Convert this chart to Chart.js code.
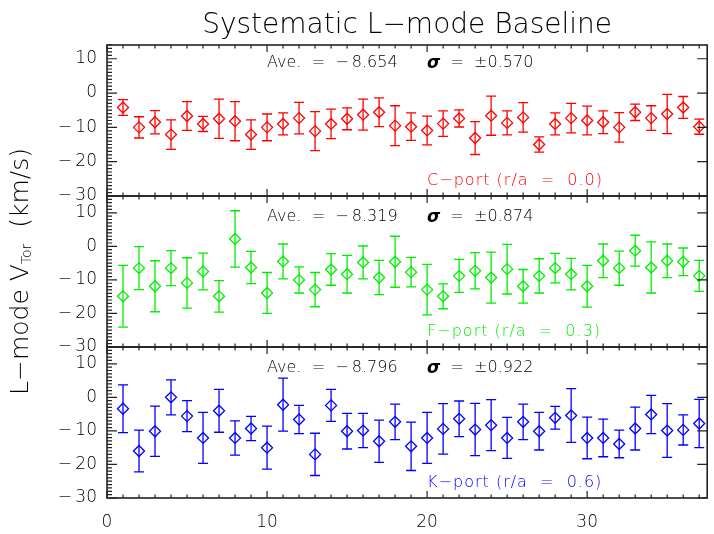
<!DOCTYPE html>
<html>
<head>
<meta charset="utf-8">
<script src="https://cdn.jsdelivr.net/npm/chart.js@4"></script>
<style>
  html, body { margin: 0; padding: 0; background: #fff; }
</style>
</head>
<body>
<canvas id="myChart" width="714" height="534"></canvas>
<script>
// shot index along x
const shots = [1, 2, 3, 4, 5, 6, 7, 8, 9, 10, 11, 12, 13, 14, 15, 16, 17, 18, 19, 20,
  21, 22, 23, 24, 25, 26, 27, 28, 29, 30, 31, 32, 33, 34, 35, 36, 37]

// C-port (r/a = 0.0)
const cVals = [-4.2, -10.0, -8.5, -12.1, -6.7, -9.0, -7.5, -8.2, -12.1, -10.0,
  -9.0, -7.3, -11.1, -9.0, -7.5, -6.3, -5.6, -9.5, -9.8, -10.9,
  -8.9, -7.4, -13.1, -6.6, -8.7, -7.1, -15.0, -9.0, -7.3, -8.0,
  -8.5, -10.0, -5.6, -7.3, -6.1, -4.2, -9.8]
const cErrs = [2.3, 3.1, 3.4, 4.3, 4.2, 2.2, 5.7, 5.7, 4.3, 3.9,
  3.2, 4.6, 5.7, 4.3, 3.2, 4.5, 4.2, 5.8, 4.0, 4.2,
  3.7, 2.5, 4.8, 5.7, 3.5, 4.3, 2.2, 3.2, 4.3, 4.2,
  3.3, 4.3, 2.4, 3.6, 5.7, 3.2, 2.2]

// F-port (r/a = 0.3)
const fVals = [-14.9, -6.5, -11.9, -6.5, -10.9, -7.5, -14.9, 2.2, -6.3, -13.9,
  -4.5, -10.0, -12.9, -6.9, -8.3, -4.8, -9.3, -4.6, -7.7, -12.9,
  -14.9, -8.8, -7.3, -9.3, -6.8, -11.9, -8.8, -6.5, -8.3, -11.9,
  -4.3, -6.5, -1.3, -6.3, -4.3, -4.6, -8.8]
const fErrs = [9.2, 6.4, 7.6, 5.2, 7.5, 5.5, 4.7, 8.4, 4.8, 6.1,
  5.2, 3.9, 5.1, 4.7, 5.6, 4.9, 5.1, 7.6, 4.4, 7.5,
  3.7, 4.9, 5.4, 7.6, 7.4, 5.0, 5.1, 4.4, 4.7, 6.2,
  5.0, 5.1, 4.6, 7.6, 5.0, 4.1, 4.6]

// K-port (r/a = 0.6)
const kVals = [-3.4, -16.0, -10.1, 0.0, -5.6, -12.1, -4.0, -12.1, -9.3, -15.0,
  -2.2, -6.6, -17.0, -2.4, -10.1, -9.9, -13.1, -7.3, -14.6, -12.1,
  -9.4, -6.4, -9.6, -8.3, -12.1, -7.3, -10.1, -6.1, -5.4, -12.1,
  -12.1, -13.9, -9.3, -5.1, -9.9, -9.7, -7.8]
const kErrs = [7.1, 6.2, 7.5, 5.2, 4.6, 7.6, 6.4, 5.1, 3.6, 6.4,
  7.9, 4.2, 6.3, 4.75, 5.3, 5.1, 6.3, 5.3, 7.2, 7.6,
  7.5, 5.3, 7.8, 7.6, 6.1, 5.3, 5.6, 3.4, 8.0, 6.2,
  5.6, 4.1, 6.4, 5.7, 8.0, 4.5, 7.2]

const portNames = ['C-port', 'F-port', 'K-port']
const portRadii = ['0.0', '0.3', '0.6']
const aveVals = ['-8.654', '-8.319', '-8.796']
const sigmaVals = ['0.570', '0.874', '0.922']
const xTicks = [0, 10, 20, 30]
const yTicks = [10, 0, -10, -20, -30]

const FONT = '"DejaVu Sans", "Liberation Sans", sans-serif'
const MINUS = '\u2212'
// long minus with a hair gap, like the original plot
const fix = s => String(s).replace(/^-/, MINUS + '\u2009').replace(/-/g, MINUS)

const colors = ['#ff0000', '#00ee00', '#0000ff']
const axisIds = ['yK', 'yF', 'yC']   // layout puts the last one on top

function yScale(max) {
  return {
    type: 'linear',
    position: 'left',
    stack: 'panels',
    stackWeight: 1,
    min: -30,
    max: max,
    grid: { display: false, drawTicks: false },
    border: { display: false },
    afterBuildTicks: s => { s.ticks = yTicks.map(v => ({ value: v })) },
    afterFit: s => { s.width = 107 },
    ticks: {
      padding: 10,
      autoSkip: false,
      color: '#000',
      font: { family: FONT, size: 17, weight: 200 },
      callback: v => fix(v)
    }
  }
}

function dataset(vals, errs, color, axis) {
  return {
    label: axis,
    data: shots.map((x, i) => ({ x: x, y: vals[i] })),
    errorBars: errs,
    yAxisID: axis,
    showLine: false,
    pointStyle: 'rectRot',
    pointRadius: 5.5,
    pointBorderWidth: 1.3,
    pointBackgroundColor: 'rgba(0,0,0,0)',
    pointBorderColor: color,
    borderColor: color
  }
}

// error bars under the diamonds
const errorBarPlugin = {
  id: 'errorBars',
  beforeDatasetsDraw(chart) {
    const ctx = chart.ctx
    const xs = chart.scales.x
    ctx.save()
    ctx.lineWidth = 1.3
    chart.data.datasets.forEach(ds => {
      const ys = chart.scales[ds.yAxisID]
      ctx.strokeStyle = ds.borderColor
      ds.data.forEach((p, i) => {
        const px = xs.getPixelForValue(p.x)
        const top = ys.getPixelForValue(p.y + ds.errorBars[i])
        const bot = ys.getPixelForValue(p.y - ds.errorBars[i])
        ctx.beginPath()
        ctx.moveTo(px, top); ctx.lineTo(px, bot)
        ctx.moveTo(px - 5, top); ctx.lineTo(px + 5, top)
        ctx.moveTo(px - 5, bot); ctx.lineTo(px + 5, bot)
        ctx.stroke()
      })
    })
    ctx.restore()
  }
}

// frames, minor ticks, labels inside the panels, titles
const framePlugin = {
  id: 'frames',
  afterDraw(chart) {
    const ctx = chart.ctx
    const xs = chart.scales.x
    const area = chart.chartArea
    ctx.save()
    ctx.strokeStyle = '#222'
    ctx.lineWidth = 1.2
    const panels = ['yC', 'yF', 'yK']
    panels.forEach((id, p) => {
      const ys = chart.scales[id]
      const top = ys.top, bot = ys.bottom
      ctx.beginPath()
      // y ticks
      for (let v = Math.ceil(ys.min); v <= ys.max; v++) {
        const py = ys.getPixelForValue(v)
        const major = v % 10 === 0
        ctx.moveTo(area.left, py); ctx.lineTo(area.left + (major ? 10 : 5), py)
        if (major) { ctx.moveTo(area.right, py); ctx.lineTo(area.right - 10, py) }
      }
      // x ticks
      for (let v = 0; v <= xs.max; v++) {
        const px = xs.getPixelForValue(v)
        const len = v % 10 === 0 ? 7 : 3.5
        ctx.moveTo(px, top); ctx.lineTo(px, top + len)
        ctx.moveTo(px, bot); ctx.lineTo(px, bot - len)
      }
      ctx.stroke()
      ctx.lineWidth = 1.6
      ctx.strokeRect(area.left, top, area.right - area.left, bot - top)
      ctx.lineWidth = 1.2

      // annotations
      ctx.textBaseline = 'middle'
      ctx.textAlign = 'left'
      const ty = ys.getPixelForValue(8.7)
      ctx.fillStyle = '#000'
      ctx.font = '200 16px ' + FONT
      ctx.fillText('Ave.  =  ' + fix(aveVals[p]), xs.getPixelForValue(10), ty)
      const sx = xs.getPixelForValue(20)
      ctx.font = 'italic 600 17px ' + FONT
      ctx.fillText('\u03c3', sx, ty)
      const sw = ctx.measureText('\u03c3').width
      ctx.font = '200 16px ' + FONT
      ctx.fillText('  =  \u00b1' + sigmaVals[p], sx + sw, ty)
      ctx.fillStyle = colors[p]
      ctx.letterSpacing = '1px'
      ctx.fillText(fix(portNames[p]) + ' (r/a  =  ' + portRadii[p] + ')', sx, ys.getPixelForValue(-25.5))
      ctx.letterSpacing = '0px'
    })

    // chart title
    ctx.fillStyle = '#000'
    ctx.textAlign = 'center'
    ctx.textBaseline = 'alphabetic'
    ctx.font = '200 28px ' + FONT
    ctx.fillText('Systematic L' + MINUS + 'mode Baseline', (area.left + area.right) / 2, 33)

    // y axis title with subscript
    ctx.translate(21, (area.top + area.bottom) / 2)
    ctx.rotate(-Math.PI / 2)
    ctx.textAlign = 'left'
    ctx.textBaseline = 'middle'
    const big = '200 25px ' + FONT, small = '200 14px ' + FONT
    const a = 'L' + MINUS + 'mode V', b = 'Tor', c = '  (km/s)'
    ctx.font = big
    const wa = ctx.measureText(a).width, wc = ctx.measureText(c).width
    ctx.font = small
    const wb = ctx.measureText(b).width
    let x0 = -(wa + wb + wc) / 2
    ctx.font = big
    ctx.fillText(a, x0, 0)
    ctx.font = small
    ctx.fillText(b, x0 + wa, 6)
    ctx.font = big
    ctx.fillText(c, x0 + wa + wb, 0)
    ctx.restore()
  }
}

const ctx = document.querySelector('#myChart').getContext('2d')
const myChart = new Chart(ctx, {
  type: 'scatter',
  data: {
    datasets: [
      dataset(cVals, cErrs, colors[0], 'yC'),
      dataset(fVals, fErrs, colors[1], 'yF'),
      dataset(kVals, kErrs, colors[2], 'yK')
    ]
  },
  options: {
    responsive: false,
    animation: false,
    devicePixelRatio: 1,
    layout: { padding: { top: 45, right: 1, left: 0, bottom: 0 } },
    plugins: {
      legend: { display: false },
      tooltip: { enabled: false }
    },
    scales: {
      x: {
        type: 'linear',
        min: 0,
        max: 37.5,
        grid: { display: false, drawTicks: false },
        border: { display: false },
        afterBuildTicks: s => { s.ticks = xTicks.map(v => ({ value: v })) },
        afterFit: s => { s.height = 36 },
        ticks: {
          padding: 14,
          maxRotation: 0,
          autoSkip: false,
          color: '#000',
          font: { family: FONT, size: 17, weight: 200 }
        }
      },
      [axisIds[0]]: yScale(15),
      [axisIds[1]]: yScale(15),
      [axisIds[2]]: yScale(14)
    }
  },
  plugins: [errorBarPlugin, framePlugin]
})
</script>
</body>
</html>
